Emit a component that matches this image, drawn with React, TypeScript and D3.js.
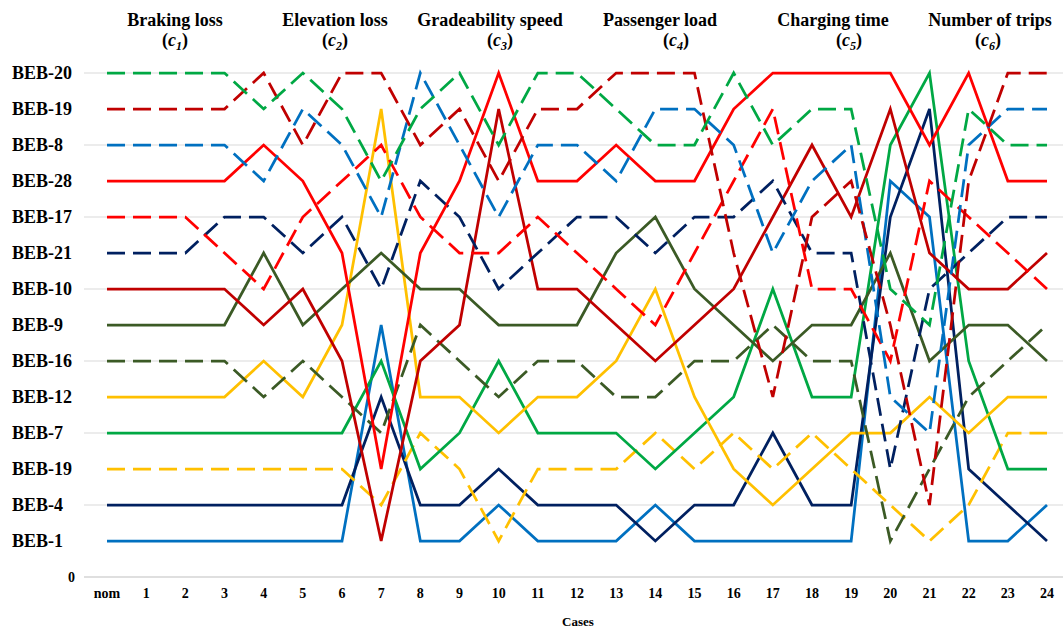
import React from "react";
import * as d3 from "d3";

const cases = ["nom", "1", "2", "3", "4", "5", "6", "7", "8", "9", "10", "11", "12", "13", "14", "15", "16", "17", "18", "19", "20", "21", "22", "23", "24"];

const rankLabels = ["0", "BEB-1", "BEB-4", "BEB-19", "BEB-7", "BEB-12", "BEB-16", "BEB-9", "BEB-10", "BEB-21", "BEB-17", "BEB-28", "BEB-8", "BEB-19", "BEB-20"];

const criteria = ["Braking loss", "Elevation loss", "Gradeability speed", "Passenger load", "Charging time", "Number of trips"];
const criteriaSub = ["1", "2", "3", "4", "5", "6"];

const beb20 = [14, 14, 14, 14, 13, 14, 13, 11, 13, 14, 12, 14, 14, 13, 12, 12, 14, 12, 13, 13, 8, 7, 13, 12, 12];
const beb19a = [13, 13, 13, 13, 14, 12, 14, 14, 12, 13, 11, 13, 13, 14, 14, 14, 9, 5, 10, 11, 7, 2, 11, 14, 14];
const beb8 = [12, 12, 12, 12, 11, 13, 12, 10, 14, 12, 10, 12, 12, 11, 13, 13, 12, 9, 11, 12, 5, 4, 12, 13, 13];
const beb28 = [11, 11, 11, 11, 12, 11, 9, 3, 9, 11, 14, 11, 11, 12, 11, 11, 13, 14, 14, 14, 14, 12, 14, 11, 11];
const beb17 = [10, 10, 10, 9, 8, 10, 11, 12, 10, 9, 9, 10, 9, 8, 7, 9, 11, 13, 8, 8, 6, 11, 10, 9, 8];
const beb21 = [9, 9, 9, 10, 10, 9, 10, 8, 11, 10, 8, 9, 10, 10, 9, 10, 10, 11, 9, 9, 3, 8, 9, 10, 10];
const beb10 = [8, 8, 8, 8, 7, 8, 6, 1, 6, 7, 13, 8, 8, 7, 6, 7, 8, 10, 12, 10, 13, 9, 8, 8, 9];
const beb9 = [7, 7, 7, 7, 9, 7, 8, 9, 8, 8, 7, 7, 7, 9, 10, 8, 7, 6, 7, 7, 9, 6, 7, 7, 6];
const beb16 = [6, 6, 6, 6, 5, 6, 5, 4, 7, 6, 5, 6, 6, 5, 5, 6, 6, 7, 6, 6, 1, 3, 5, 6, 7];
const beb12 = [5, 5, 5, 5, 6, 5, 7, 13, 5, 5, 4, 5, 5, 6, 8, 5, 3, 2, 3, 4, 4, 5, 4, 5, 5];
const beb7 = [4, 4, 4, 4, 4, 4, 4, 6, 3, 4, 6, 4, 4, 4, 3, 4, 5, 8, 5, 5, 12, 14, 6, 3, 3];
const beb19b = [3, 3, 3, 3, 3, 3, 3, 2, 4, 3, 1, 3, 3, 3, 4, 3, 4, 3, 4, 3, 2, 1, 2, 4, 4];
const beb4 = [2, 2, 2, 2, 2, 2, 2, 5, 2, 2, 3, 2, 2, 2, 1, 2, 2, 4, 2, 2, 10, 13, 3, 2, 1];
const beb1 = [1, 1, 1, 1, 1, 1, 1, 7, 1, 1, 2, 1, 1, 1, 2, 1, 1, 1, 1, 1, 11, 10, 1, 1, 2];

const GREEN = "#00a844";
const DKRED = "#c00000";
const BLUE = "#0070c0";
const RED = "#ff0000";
const NAVY = "#002060";
const OLIVE = "#3b5a25";
const YELLOW = "#ffc000";

const series = [
  { name: "BEB-1", values: beb1, color: BLUE, dashed: false },
  { name: "BEB-4", values: beb4, color: NAVY, dashed: false },
  { name: "BEB-19b", values: beb19b, color: YELLOW, dashed: true },
  { name: "BEB-7", values: beb7, color: GREEN, dashed: false },
  { name: "BEB-12", values: beb12, color: YELLOW, dashed: false },
  { name: "BEB-16", values: beb16, color: OLIVE, dashed: true },
  { name: "BEB-9", values: beb9, color: OLIVE, dashed: false },
  { name: "BEB-10", values: beb10, color: DKRED, dashed: false },
  { name: "BEB-21", values: beb21, color: NAVY, dashed: true },
  { name: "BEB-17", values: beb17, color: RED, dashed: true },
  { name: "BEB-28", values: beb28, color: RED, dashed: false },
  { name: "BEB-8", values: beb8, color: BLUE, dashed: true },
  { name: "BEB-19a", values: beb19a, color: DKRED, dashed: true },
  { name: "BEB-20", values: beb20, color: GREEN, dashed: true },
];

const titleX = [175, 335, 490, 660, 833, 990];
const subX = [175, 335, 500, 676, 849, 988];

export default function App() {
  const W = 1063;
  const H = 630;
  const x = d3.scalePoint<string>().domain(cases).range([107, 1047]);
  const y = d3.scaleLinear().domain([0, 14]).range([577, 73]);
  const line = d3
    .line<number>()
    .x((_, i) => x(cases[i]) as number)
    .y((d) => y(d));
  const grid = d3.range(0, 15, 2);
  const serif = "'Liberation Serif', 'Times New Roman', serif";

  return (
    <svg
      width={W}
      height={H}
      style={{ position: "absolute", left: 0, top: 0, background: "#fff" }}
      fontFamily={serif}
    >
      <rect x={0} y={0} width={W} height={H} fill="#fff" />
      {grid.map((g) => (
        <line
          key={g}
          x1={84}
          x2={W}
          y1={y(g)}
          y2={y(g)}
          stroke={g === 0 ? "#bfbfbf" : "#d9d9d9"}
          strokeWidth={1}
        />
      ))}
      {rankLabels.map((lab, i) =>
        i === 0 ? (
          <text key={i} x={75} y={y(0)} dy="0.35em" textAnchor="end" fontSize={14} fontWeight="bold">
            {lab}
          </text>
        ) : (
          <text key={i} x={12} y={y(i)} dy="0.35em" fontSize={18} fontWeight="bold">
            {lab}
          </text>
        )
      )}
      {cases.map((c) => (
        <text key={c} x={x(c)} y={598} textAnchor="middle" fontSize={14} fontWeight="bold">
          {c}
        </text>
      ))}
      <text x={578} y={626} textAnchor="middle" fontSize={13} fontWeight="bold">
        Cases
      </text>
      {criteria.map((t, i) => (
        <g key={t}>
          <text x={titleX[i]} y={26} textAnchor="middle" fontSize={18} fontWeight="bold">
            {t}
          </text>
          <text x={subX[i]} y={46} textAnchor="middle" fontSize={18} fontWeight="bold">
            (<tspan fontStyle="italic">c</tspan>
            <tspan fontStyle="italic" fontSize={12} dy={4}>{criteriaSub[i]}</tspan>
            <tspan dy={-4}>)</tspan>
          </text>
        </g>
      ))}
      {series.map((s) => (
        <path
          key={s.name}
          d={line(s.values) as string}
          fill="none"
          stroke={s.color}
          strokeWidth={2.75}
          strokeDasharray={s.dashed ? "18 8" : undefined}
          strokeLinejoin="miter"
        />
      ))}
    </svg>
  );
}
